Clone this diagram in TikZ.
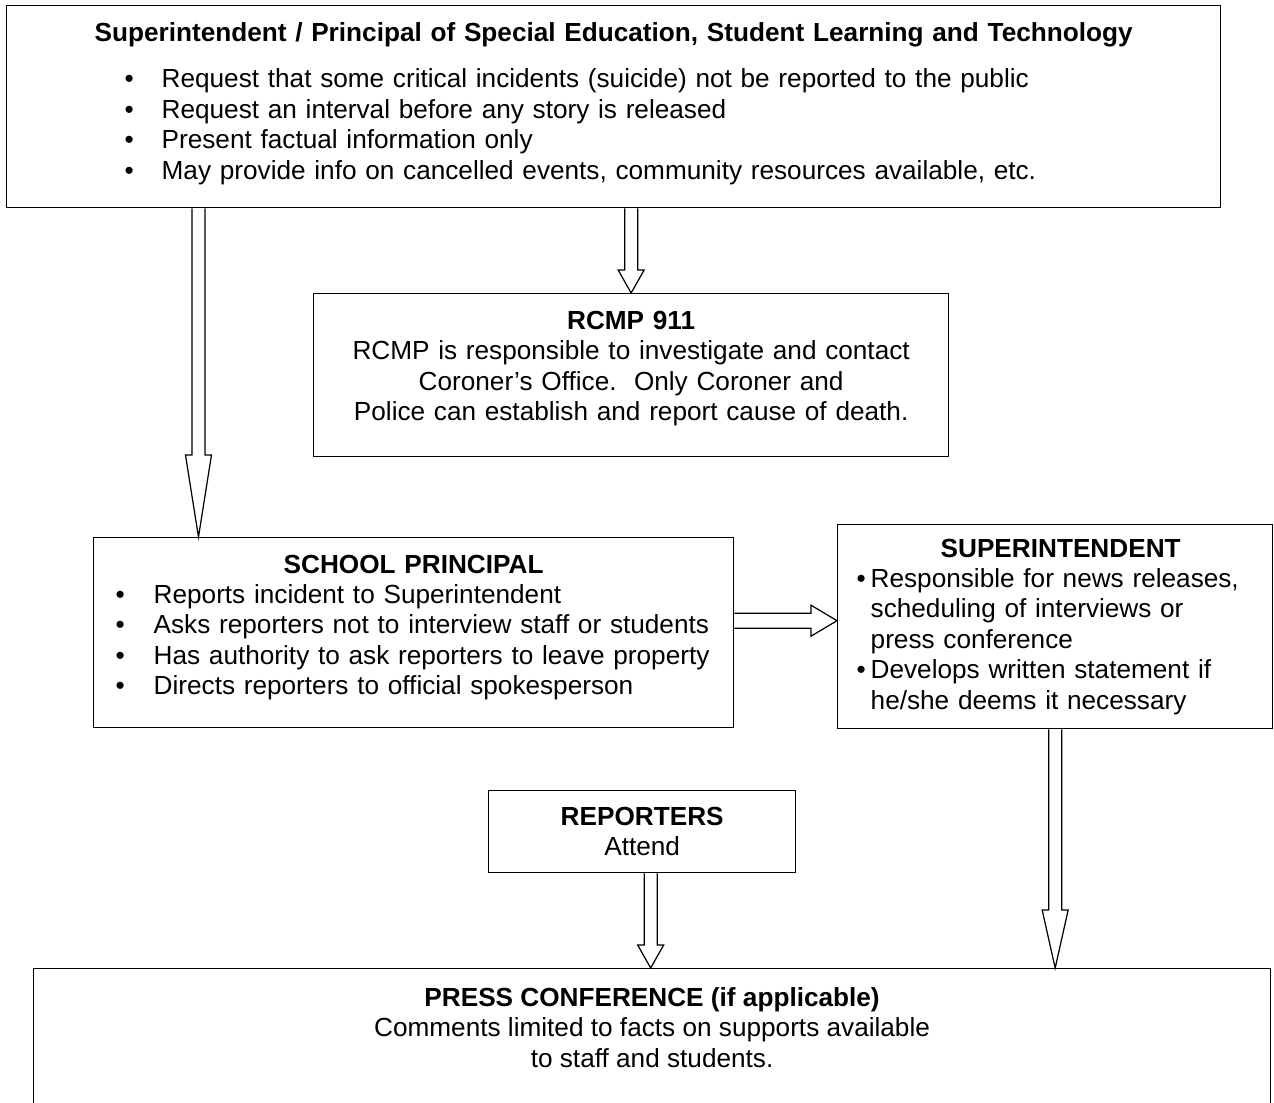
\documentclass[tikz,border=0pt]{standalone}
\usepackage{fontspec}
\setmainfont{Liberation Sans}
\usetikzlibrary{positioning,calc}

% outlined block arrows: start, tip, head length
\newcommand{\fatdown}[3]{%
  \draw[fat] ($(#1)+(-6.5,0)$) -- ($(#2)+(-6.5,-#3)$) -- ($(#2)+(-13,-#3)$)
    -- (#2) -- ($(#2)+(13,-#3)$) -- ($(#2)+(6.5,-#3)$) -- ($(#1)+(6.5,0)$);}
\newcommand{\fatright}[3]{%
  \draw[fat] ($(#1)+(0,-7.5)$) -- ($(#2)+(-#3,-7.5)$) -- ($(#2)+(-#3,-15.5)$)
    -- (#2) -- ($(#2)+(-#3,15.5)$) -- ($(#2)+(-#3,7.5)$) -- ($(#1)+(0,7.5)$);}
\newcommand{\bul}[2]{\hspace*{#1}\makebox[#2][l]{\textbullet}}
% extra depth under the last line, pushes the text up in its box
\newcommand{\padbottom}[1]{\rule[-#1]{0pt}{0pt}}

\begin{document}
\begin{tikzpicture}[
  x=0.02cm, y=-0.02cm,
  font=\fontsize{14.9}{17.3}\selectfont,
  box/.style={draw, line width=0.8pt, inner sep=0pt, anchor=north west, align=left},
  fat/.style={line width=0.7pt, line join=miter},
]
\useasboundingbox (0,0) rectangle (1274,1102);
\clip (0,0) rectangle (1274,1102);

\node[box, text width=24.28cm, minimum height=4.04cm] (top) at (6,5) {%
  \makebox[24.28cm]{\bfseries Superintendent / Principal of Special Education, Student Learning and Technology}\\[9pt]
  \bul{2.36cm}{0.74cm}Request that some critical incidents (suicide) not be reported to the public\\
  \bul{2.36cm}{0.74cm}Request an interval before any story is released\\
  \bul{2.36cm}{0.74cm}Present factual information only\\
  \bul{2.36cm}{0.74cm}May provide info on cancelled events, community resources available, etc.\padbottom{6.5pt}};

\node[box, align=center, text width=12.7cm, minimum height=3.26cm] (rcmp) at (313,293)
  {\textbf{RCMP 911}\\
   RCMP is responsible to investigate and contact\\
   Coroner’s Office.\ \ Only Coroner and\\
   Police can establish and report cause of death.\padbottom{10.5pt}};

\node[box, text width=12.8cm, minimum height=3.8cm] (prin) at (93,537) {%
  \makebox[12.8cm]{\bfseries SCHOOL PRINCIPAL}\\
  \bul{0.44cm}{0.76cm}Reports incident to Superintendent\\
  \bul{0.44cm}{0.76cm}Asks reporters not to interview staff or students\\
  \bul{0.44cm}{0.76cm}Has authority to ask reporters to leave property\\
  \bul{0.44cm}{0.76cm}Directs reporters to official spokesperson\padbottom{9pt}};

\node[box, text width=8.7cm, minimum height=4.08cm] (sup) at (837,524) {%
  \makebox[8.7cm]{\hspace*{0.22cm}\bfseries SUPERINTENDENT}\\
  \bul{0.38cm}{0.28cm}Responsible for news releases,\\
  \hspace*{0.66cm}scheduling of interviews or\\
  \hspace*{0.66cm}press conference\\
  \bul{0.38cm}{0.28cm}Develops written statement if\\
  \hspace*{0.66cm}he/she deems it necessary};

\node[box, align=center, text width=6.14cm, minimum height=1.64cm] (rep) at (488,790)
  {\textbf{REPORTERS}\\Attend};

% bottom box runs off the page
\node[box, text width=24.74cm, minimum height=3.2cm] (press) at (33,968) {};
\node[below=0.38cm of press.north, inner sep=0pt, align=center] (presstxt)
  {\textbf{PRESS CONFERENCE (if applicable)}\\
   Comments limited to facts on supports available\\
   to staff and students.};

% block arrows
\coordinate (l) at ([xshift=2.11cm]prin.north west);
\fatdown{top.south -| l}{l}{82}
\fatdown{top.south -| rcmp.north}{rcmp.north}{23}
\coordinate (h) at ([yshift=0.24cm]prin.east);
\fatright{h}{h -| sup.west}{26}
\fatdown{sup.south}{sup.south |- press.north}{58}
\coordinate (r) at ([xshift=0.17cm]rep.south);
\fatdown{r}{r |- press.north}{23}
\end{tikzpicture}
\end{document}
